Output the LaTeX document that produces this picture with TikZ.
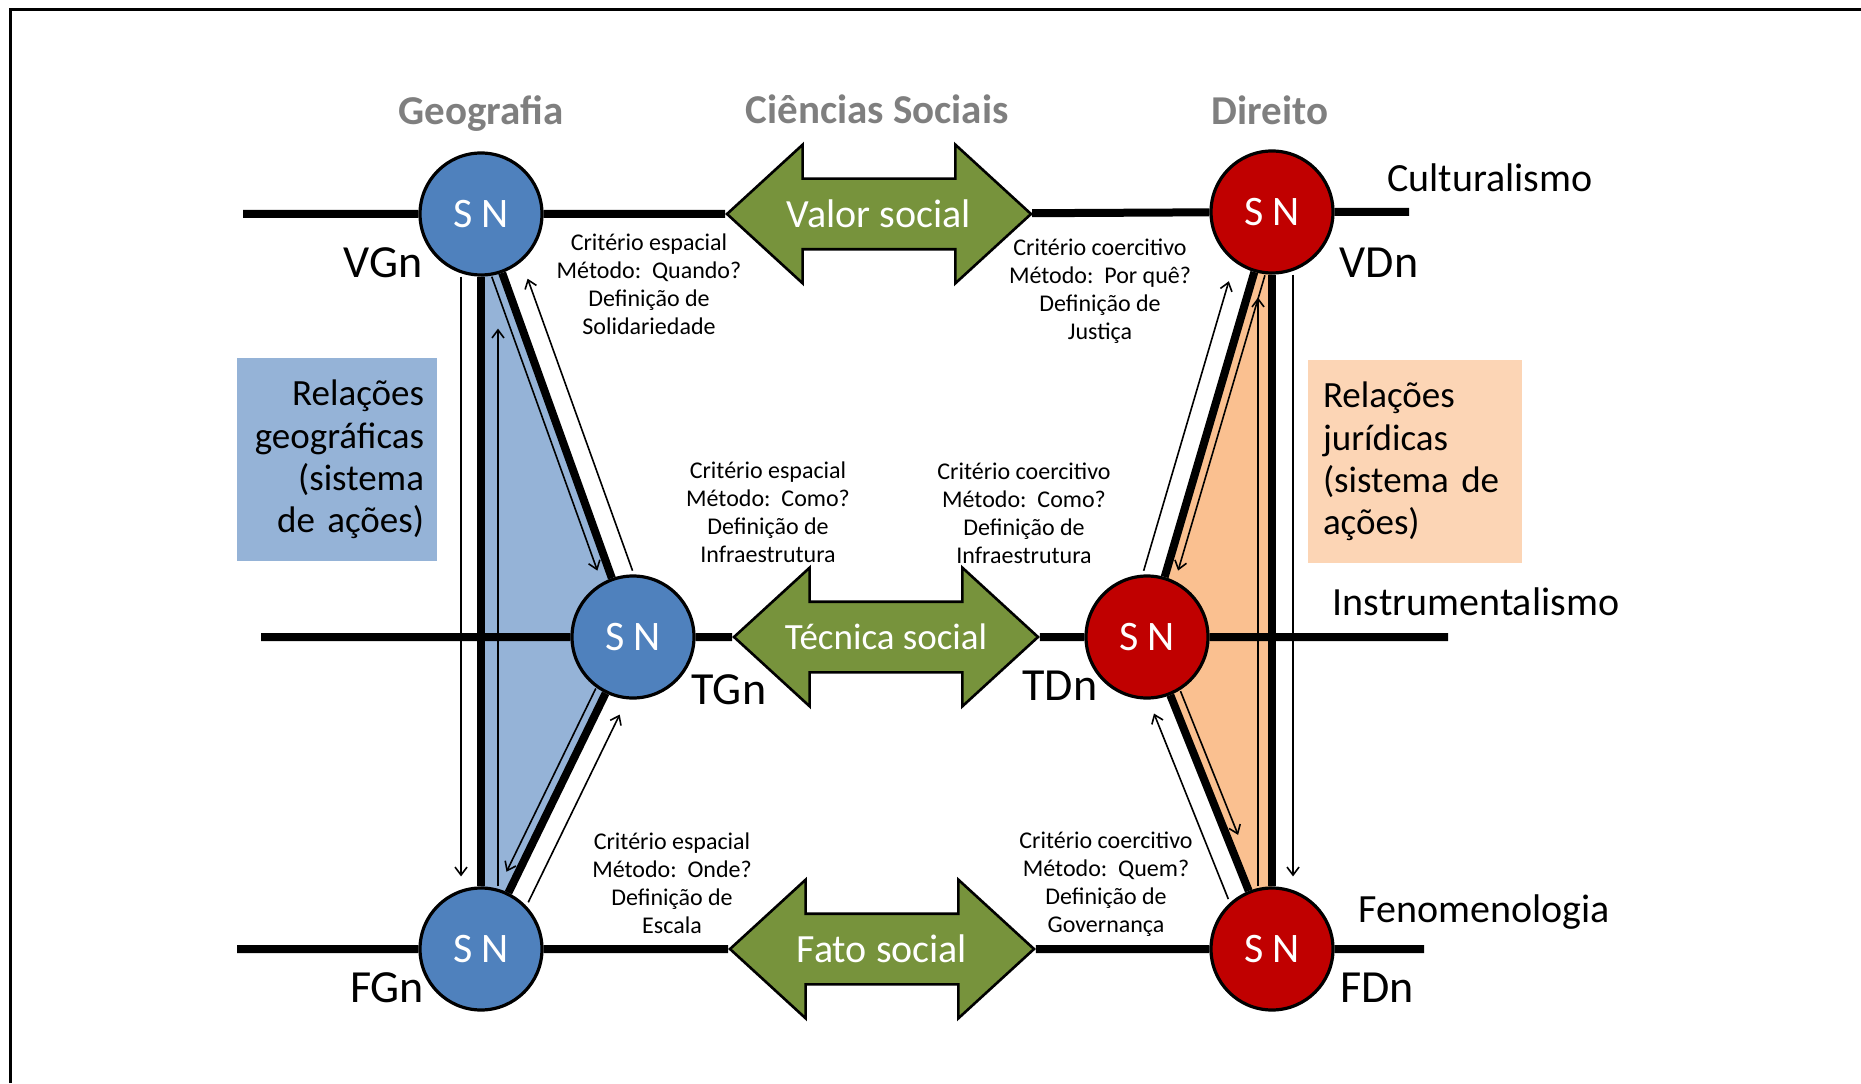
\documentclass[tikz,border=0pt]{standalone}
\usepackage{fontspec}
\setmainfont{Carlito}
\frenchspacing
\usetikzlibrary{arrows.meta,shapes.arrows,backgrounds}

\definecolor{azulno}{HTML}{4F81BD}
\definecolor{vermelhono}{HTML}{C00000}
\definecolor{verdeseta}{HTML}{77933C}
\definecolor{azulclaro}{HTML}{95B3D7}
\definecolor{laranjaclaro}{HTML}{FAC090}
\definecolor{caixalaranja}{HTML}{FCD5B5}
\definecolor{cinzatitulo}{HTML}{7F7F7F}

\tikzset{
  no/.style={circle,draw=black,line width=1.6pt,minimum size=61pt,inner sep=0pt,
    text=white,font=\fontsize{21}{21}\selectfont},
  seta/.style={double arrow,draw=black,line width=1.3pt,fill=verdeseta,
    double arrow head extend=17pt,double arrow tip angle=85,minimum height=152pt,
    text height=14pt,text depth=4pt,inner ysep=8pt},
  textoseta/.style={text=white,font=\fontsize{20}{20}\selectfont},
  eixo/.style={line width=4pt},
  fina/.style={line width=0.8pt,-{Straight Barb[length=4pt,width=6pt]}},
  criterio/.style={align=center,font=\fontsize{12}{14}\selectfont},
  rotulo/.style={font=\fontsize{23}{23}\selectfont},
  escola/.style={font=\fontsize{20}{20}\selectfont},
  titulo/.style={text=cinzatitulo,font=\bfseries\fontsize{20.5}{20.5}\selectfont},
  caixa/.style={font=\fontsize{18.5}{21.2}\selectfont,inner ysep=0pt}
}

\begin{document}
\begin{tikzpicture}[x=0.5pt,y=0.5pt]
  \useasboundingbox (0,0) rectangle (1861,1083);
  \draw[line width=1.5pt] (10,0) -- (10,1073) -- (1861,1073);

  % titulos
  \node[titulo] (geo) at (481,969) {Geografia};
  \node[titulo] (cs) at (877,974) {Ciências Sociais};
  \node[titulo] (dir) at (1270,973) {Direito};

  % caixas laterais
  \node[caixa,fill=azulclaro,minimum width=100pt,minimum height=101.5pt,
    inner xsep=6.5pt,text width=87pt,align=right] (relgeo) at (337,623.5)
    {Relações\\geográficas\\(sistema\\de ações)};
  \node[caixa,fill=caixalaranja,minimum width=107pt,minimum height=101.5pt,
    inner xsep=7.5pt,text width=92pt,align=left] (reljur) at (1415,621.5)
    {Relações\\jurídicas\\(sistema de\\ações)};

  % nos
  \node[no,fill=azulno] (VG) at (481,869) {S N};
  \node[no,fill=azulno] (TG) at (633,446) {S N};
  \node[no,fill=azulno] (FG) at (481,134) {S N};
  \node[no,fill=vermelhono] (VD) at (1272,871) {S N};
  \node[no,fill=vermelhono] (TD) at (1147,446) {S N};
  \node[no,fill=vermelhono] (FD) at (1272,134) {S N};

  % setas verdes
  \node[seta,label={[textoseta]center:Valor social}] (valor) at (879,869) {};
  \node[seta,label={[textoseta,font=\fontsize{18.5}{18.5}\selectfont]center:Técnica social}] (tecnica) at (886,446) {};
  \node[seta,label={[textoseta]center:Fato social}] (fato) at (882,134) {};

  % triangulos
  \begin{scope}[on background layer]
    \fill[azulclaro] (VG.center) -- (TG.center) -- (FG.center) -- cycle;
    \fill[laranjaclaro] (VD.center) -- (TD.center) -- (FD.center) -- cycle;
  \end{scope}

  % eixos
  \coordinate (cultE) at (243,869);
  \coordinate (cultD) at (1409,871);
  \coordinate (instE) at (261,446);
  \coordinate (instD) at (1448,446);
  \coordinate (fenE) at (237,134);
  \coordinate (fenD) at (1424,134);
  \draw[eixo] (cultE) -- (VG) -- (valor) -- (VD) -- (cultD);
  \draw[eixo] (instE) -- (TG) -- (tecnica) -- (TD) -- (instD);
  \draw[eixo] (fenE) -- (FG) -- (fato) -- (FD) -- (fenD);
  \draw[eixo] (VG) -- (FG);
  \draw[eixo] (VG) -- (TG) -- (FG);
  \draw[eixo] (VD) -- (FD);
  \draw[eixo] (VD) -- (TD) -- (FD);

  % setas finas
  \foreach \de/\para/\dx/\dy/\enc in {VG/FG/-10/0/5, FG/VG/8.5/0/26,
      VG/TG/-5.2/-1.9/6, TG/VG/10.35/3.7/7, TG/FG/-4.9/2.4/9, FG/TG/9.9/-4.8/6.5,
      VD/FD/10.5/0/5, FD/VD/-7/0/11.5, VD/TD/5.3/-1.6/5, TD/VD/-10.5/3.1/8,
      TD/FD/5.1/2/28, FD/TD/-10.2/-4.1/5.5}
    \draw[fina,shorten >=\enc pt,transform canvas={shift={(\dx pt,\dy pt)}}] (\de) -- (\para);

  % rotulos dos nos
  \node[rotulo] (lvg) at (383,820) {VGn};
  \node[rotulo] (lvd) at (1379,820) {VDn};
  \node[rotulo] (ltg) at (729,393) {TGn};
  \node[rotulo] (ltd) at (1060,397) {TDn};
  \node[rotulo] (lfg) at (387,95) {FGn};
  \node[rotulo] (lfd) at (1377,95) {FDn};

  % escolas
  \node[escola] (cult) at (1490,905) {Culturalismo};
  \node[escola] (inst) at (1476,481) {Instrumentalismo};
  \node[escola] (fen) at (1484,171) {Fenomenologia};

  % criterios
  \node[criterio] (qVG) at (649,799) {Critério espacial\\Método:~ Quando?\\Definição de\\Solidariedade};
  \node[criterio] (qVD) at (1100,792) {Critério coercitivo\\Método:~ Por quê?\\Definição de\\Justiça};
  \node[criterio] (qTG) at (768,571) {Critério espacial\\Método:~ Como?\\Definição de\\Infraestrutura};
  \node[criterio] (qTD) at (1024,570) {Critério coercitivo\\Método:~ Como?\\Definição de\\Infraestrutura};
  \node[criterio] (qFG) at (672,200) {Critério espacial\\Método:~ Onde?\\Definição de\\Escala};
  \node[criterio] (qFD) at (1106,199) {Critério coercitivo\\Método:~ Quem?\\Definição de\\Governança};
\end{tikzpicture}
\end{document}
